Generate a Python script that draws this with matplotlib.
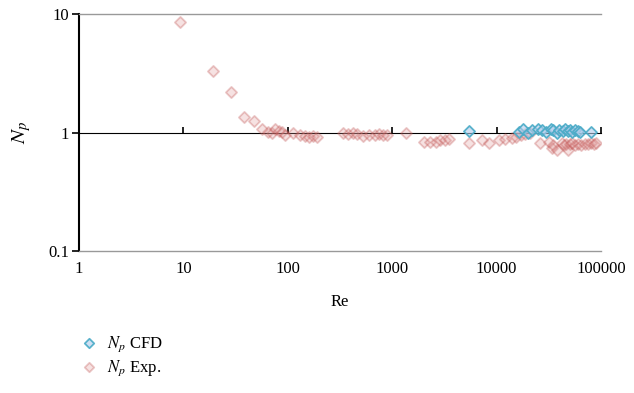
import matplotlib
matplotlib.use("Agg")
import matplotlib.pyplot as plt

# Reynolds number vs power number
re_cfd = [5400, 16500, 18000, 20000, 22000, 25000, 27000, 30000, 33000, 35000,
          38000, 40000, 43000, 45000, 48000, 50000, 53000, 56000, 60000, 63000, 80000]
np_cfd = [1.03, 1.02, 1.08, 1.00, 1.05, 1.07, 1.05, 1.02, 1.07, 1.05,
          1.00, 1.06, 1.04, 1.07, 1.03, 1.05, 1.02, 1.05, 1.03, 1.02, 1.02]

re_exp = [9.3, 19, 28.5, 38, 47, 57, 64, 70, 76, 82, 88, 95, 112, 130, 145, 160, 175, 190,
          340, 380, 420, 460, 520, 600, 680, 750, 820, 900, 1350,
          2000, 2300, 2600, 2900, 3200, 3500, 5400, 7200, 8500,
          10500, 12000, 14000, 15500, 17000, 18500, 21000, 26000, 32000, 34000, 35000,
          38000, 42000, 44000, 46000, 48000, 50000, 53000, 56000, 60000, 65000,
          70000, 75000, 80000, 85000, 90000]
np_exp = [8.6, 3.3, 2.2, 1.36, 1.26, 1.08, 1.02, 1.0, 1.07, 1.04, 1.02, 0.96, 0.99, 0.95, 0.93, 0.92, 0.93, 0.92,
          0.99, 0.98, 1.0, 0.97, 0.93, 0.96, 0.95, 0.97, 0.95, 0.95, 1.0,
          0.84, 0.84, 0.83, 0.86, 0.87, 0.88, 0.82, 0.86, 0.82,
          0.86, 0.88, 0.90, 0.92, 0.96, 0.98, 1.0, 0.82, 0.83, 0.74, 0.78,
          0.72, 0.82, 0.78, 0.80, 0.72, 0.80, 0.82, 0.78, 0.80, 0.78,
          0.80, 0.80, 0.81, 0.80, 0.82]

xticks = [1, 10, 100, 1000, 10000, 100000]
xtick_labels = ["1", "10", "100", "1000", "10000", "100000"]
yticks = [0.1, 1, 10]
ytick_labels = ["0.1", "1", "10"]

plt.rcParams["font.family"] = ["Liberation Serif", "DejaVu Serif"]
plt.rcParams["mathtext.fontset"] = "stix"

fig = plt.figure(figsize=(6.34, 3.93), dpi=100)
ax = fig.add_axes([0.1246, 0.361, 0.8234, 0.603])

ax.scatter(re_exp, np_exp, marker="D", s=32, facecolor=(0.88, 0.60, 0.60, 0.28),
           edgecolor=(0.75, 0.31, 0.30, 0.32), linewidth=1.3, label=r"$N_p$ Exp.", zorder=3)
ax.scatter(re_cfd, np_cfd, marker="D", s=32, facecolor=(0.70, 0.80, 0.92, 0.6),
           edgecolor=(0.29, 0.67, 0.78, 0.9), linewidth=1.3, label=r"$N_p$ CFD", zorder=4)

ax.set_xscale("log")
ax.set_yscale("log")
ax.set_xlim(1, 100000)
ax.set_ylim(0.1, 10)
ax.set_xticks(xticks)
ax.set_xticklabels(xtick_labels)
ax.set_yticks(yticks)
ax.set_yticklabels(ytick_labels)
ax.minorticks_off()
ax.tick_params(axis="x", length=0, labelsize=12, pad=7)
ax.tick_params(axis="y", length=5, width=1.2, labelsize=12, color="black", pad=2)

for side in ["top", "bottom"]:
    ax.spines[side].set_color("#999999")
    ax.spines[side].set_linewidth(1.0)
ax.spines["right"].set_visible(False)
ax.spines["left"].set_linewidth(1.5)

# x axis crossing at Np = 1
sec = ax.secondary_xaxis(0.5)
sec.set_xticks(xticks)
sec.set_xticklabels([])
sec.minorticks_off()
sec.tick_params(length=4, width=1.2, direction="out")
sec.spines["bottom"].set_linewidth(1.8)
sec.spines["bottom"].set_color("black")

ax.set_xlabel("Re", fontsize=12, labelpad=12)
ax.set_ylabel(r"$N_p$", fontsize=15, labelpad=11)

handles, labels = ax.get_legend_handles_labels()
fig.legend(handles[::-1], labels[::-1], loc="center left", bbox_to_anchor=(0.09, 0.094),
           frameon=False, fontsize=12, handletextpad=0.1, labelspacing=0.25, markerscale=0.85)

fig.savefig("out.png", dpi=100)
